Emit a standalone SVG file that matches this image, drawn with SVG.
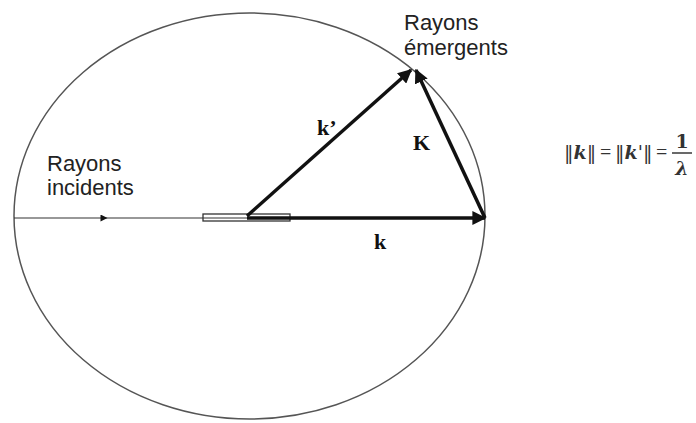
<svg xmlns="http://www.w3.org/2000/svg" width="696" height="423" viewBox="0 0 696 423">
<defs>
<style>
.lbl{font-family:"Liberation Sans",Arial,sans-serif;font-size:22px;fill:#222}
.vec{font-family:"Liberation Serif","Times New Roman",serif;font-weight:bold;font-size:22px;fill:#111}
.frm{font-family:"DejaVu Serif","Liberation Serif",serif;font-size:19px;fill:#333}
.eq{font-family:"Liberation Serif","Times New Roman",serif;font-size:20px;fill:#333}
.bar{stroke:#444;stroke-width:1.6}
.thin{stroke:#333;stroke-width:1.2;fill:none}
.thick{stroke:#111;stroke-width:3.5;fill:none}
</style>
<marker id="ah" viewBox="0 0 10 10" refX="9" refY="5" markerWidth="4" markerHeight="4" orient="auto" markerUnits="strokeWidth">
<path d="M0,0 L10,5 L0,10 z" fill="#111"/>
</marker>
<marker id="ahs" viewBox="0 0 10 10" refX="5" refY="5" markerWidth="9" markerHeight="7" orient="auto" markerUnits="userSpaceOnUse">
<path d="M0,0 L10,5 L0,10 z" fill="#111"/>
</marker>
</defs>
<rect width="696" height="423" fill="#fff"/>
<g id="sphere">
<ellipse cx="249.5" cy="216" rx="235.5" ry="203" fill="none" stroke="#555" stroke-width="1.5"/>
</g>
<g id="sample">
<rect x="203" y="214" width="87" height="7" fill="#fff" stroke="#333" stroke-width="1.3"/>
</g>
<g id="connectors">
<line class="thin" x1="14" y1="218" x2="248" y2="218"/>
<line x1="95" y1="218" x2="104" y2="218" stroke="none" marker-end="url(#ahs)"/>
<line class="thick" x1="247" y1="218" x2="485" y2="218" marker-end="url(#ah)"/>
<line class="thick" x1="247" y1="216" x2="411" y2="70" marker-end="url(#ah)"/>
<line class="thick" x1="485" y1="218" x2="416" y2="70" marker-end="url(#ah)"/>
</g>
<g id="labels">
<text class="lbl" x="47" y="171">Rayons</text>
<text class="lbl" x="47" y="195">incidents</text>
<text class="lbl" x="404" y="30">Rayons</text>
<text class="lbl" x="404" y="55">émergents</text>
<text class="vec" x="317" y="135">k’</text>
<text class="vec" x="413" y="150">K</text>
<text class="vec" x="374" y="249">k</text>
</g>
<g id="formula">
<text class="frm" x="564" y="159">‖<tspan font-style="italic" font-weight="bold">k</tspan>‖</text>
<text class="eq" x="600" y="159">=</text>
<text class="frm" x="615" y="159">‖<tspan font-style="italic" font-weight="bold">k</tspan>'‖</text>
<text class="eq" x="656" y="159">=</text>
<text class="frm" x="682" y="148" text-anchor="middle" font-weight="bold" font-size="17">1</text>
<line class="bar" x1="672" y1="153" x2="692" y2="153"/>
<text class="frm" x="682" y="175" text-anchor="middle" font-weight="bold" font-style="italic" font-size="18">λ</text>
</g>
</svg>
